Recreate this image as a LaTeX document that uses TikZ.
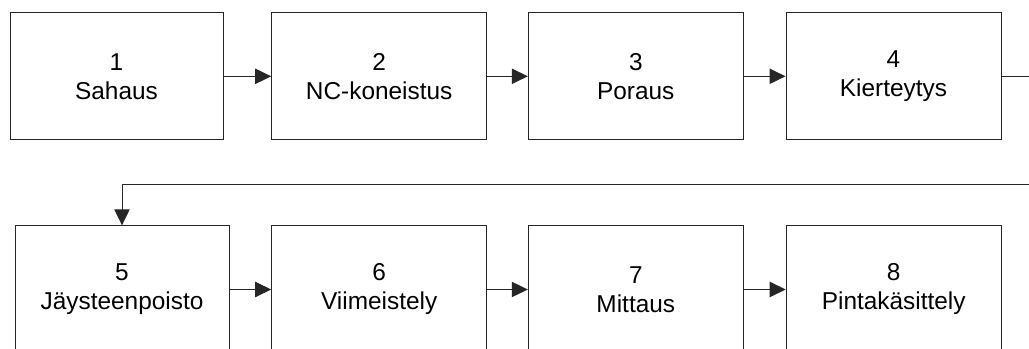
\documentclass[tikz,border=0pt]{standalone}
\usepackage{fontspec}
\setmainfont{Liberation Sans}
\usetikzlibrary{arrows.meta}
\begin{document}
\begin{tikzpicture}[x=0.75pt,y=-0.75pt,
  stepbox/.style={draw=black!85,line width=0.75pt,rectangle,inner sep=0pt,
    minimum width=161.25pt,minimum height=95.5pt,align=center,
    font=\fontsize{18.3}{21.75}\selectfont},
  flow/.style={draw=black!85,line width=0.75pt,
    -{Triangle[length=12pt,width=11.5pt]}}]
\useasboundingbox (0,0) rectangle (1029,349);
\clip (0,0) rectangle (1029,349);
% first row of work phases
\node[stepbox,minimum width=159.75pt] (n1) at (116.5,76.3) {1\\Sahaus};
\node[stepbox] (n2) at (379.2,76.3) {2\\NC-koneistus};
\node[stepbox] (n3) at (635.8,76.3) {3\\Poraus};
\node[stepbox] (n4) at (893.5,76.3) {4\\Kierteytys};
% second row of work phases
\node[stepbox,minimum width=160.5pt] (n5) at (122,289.5) {5\\Jäysteenpoisto};
\node[stepbox] (n6) at (379.2,289.5) {6\\Viimeistely};
\node[stepbox] (n7) at (635.8,289.5) {7\\Mittaus};
\node[stepbox] (n8) at (893.7,289.5) {8\\Pintakäsittely};
% connectors
\draw[flow] (n1) -- (n2);
\draw[flow] (n2) -- (n3);
\draw[flow] (n3) -- (n4);
\coordinate (turn) at (1045,185);
\draw[flow] (n4.east) -| (turn) -| (n5.north);
\draw[flow] (n5) -- (n6);
\draw[flow] (n6) -- (n7);
\draw[flow] (n7) -- (n8);
\end{tikzpicture}
\end{document}
